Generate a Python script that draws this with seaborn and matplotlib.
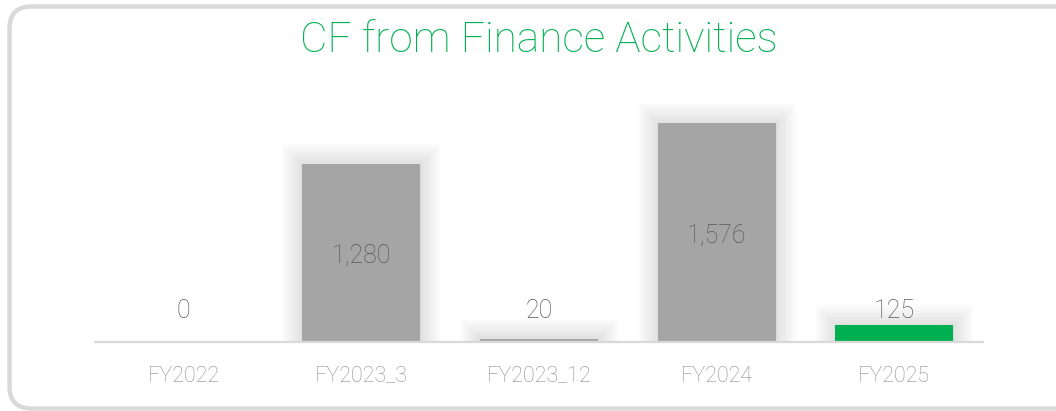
import matplotlib
matplotlib.use("Agg")
import matplotlib.pyplot as plt
import matplotlib.patheffects as pe
from matplotlib.patches import FancyBboxPatch
import seaborn as sns
import pandas as pd

categories = ["FY2022", "FY2023_3", "FY2023_12", "FY2024", "FY2025"]
values = [0, 1280, 20, 1576, 125]
labels = ["0", "1,280", "20", "1,576", "125"]
bar_colors = ["#A5A5A5", "#A5A5A5", "#A5A5A5", "#A5A5A5", "#00B050"]
title = "CF from Finance Activities"

sns.set_theme(style="white")
plt.rcParams["font.family"] = ["Roboto", "DejaVu Sans"]

W, H = 1056, 411
fig = plt.figure(figsize=(W / 100, H / 100), dpi=100)
fig.patch.set_facecolor("white")

# background axes in pixel coordinates for the rounded border
bg = fig.add_axes([0, 0, 1, 1], zorder=-5)
bg.set_xlim(0, W)
bg.set_ylim(H, 0)
bg.axis("off")
bg.add_patch(FancyBboxPatch((9.5, 6.5), 1080, 402,
                            boxstyle="round,pad=0,rounding_size=22",
                            facecolor="none", edgecolor="#D9D9D9", linewidth=3.2))

ax_left, ax_right = 95, 983
ax_bottom, ax_top = 342, 100
ax = fig.add_axes([ax_left / W, 1 - ax_bottom / H, (ax_right - ax_left) / W, (ax_bottom - ax_top) / H])
ax.patch.set_alpha(0)

df = pd.DataFrame({"cat": categories, "val": values})
sns.barplot(data=df, x="cat", y="val", hue="cat", palette=bar_colors, legend=False,
            width=0.665, ax=ax, saturation=1, linewidth=0)

ax.set_xlim(-0.5, 4.5)
ax.set_ylim(0, (ax_bottom - ax_top) / 0.139)
for s in ["top", "right", "left"]:
    ax.spines[s].set_visible(False)
ax.spines["bottom"].set_color("#D9D9D9")
ax.spines["bottom"].set_linewidth(1.6)
ax.set_yticks([])
ax.set_xlabel("")
ax.set_ylabel("")
ax.tick_params(axis="x", length=0, pad=17, labelsize=15.5, labelcolor="#8F8F8F")
for t in ax.get_xticklabels():
    t.set_fontweight("light")

# soft shadow
shadow = [pe.Stroke(linewidth=lw, foreground="black", alpha=0.008) for lw in range(30, 1, -2)]
for p, v in zip(ax.patches, values):
    if v > 0:
        p.set_path_effects(shadow + [pe.Normal()])

for i, (v, lab) in enumerate(zip(values, labels)):
    y = v / 2 if v > 500 else 228
    ax.text(i, y - (22 if v > 500 else 6), lab, ha="center", va="center", fontsize=18,
            color="#595959", fontweight="light")

fig.text((ax_left + ax_right) / 2 / W, 1 - 41 / H, title, ha="center", va="center",
         fontsize=30.5, color="#00B050", fontweight="light")

fig.savefig("out.png", dpi=100)
